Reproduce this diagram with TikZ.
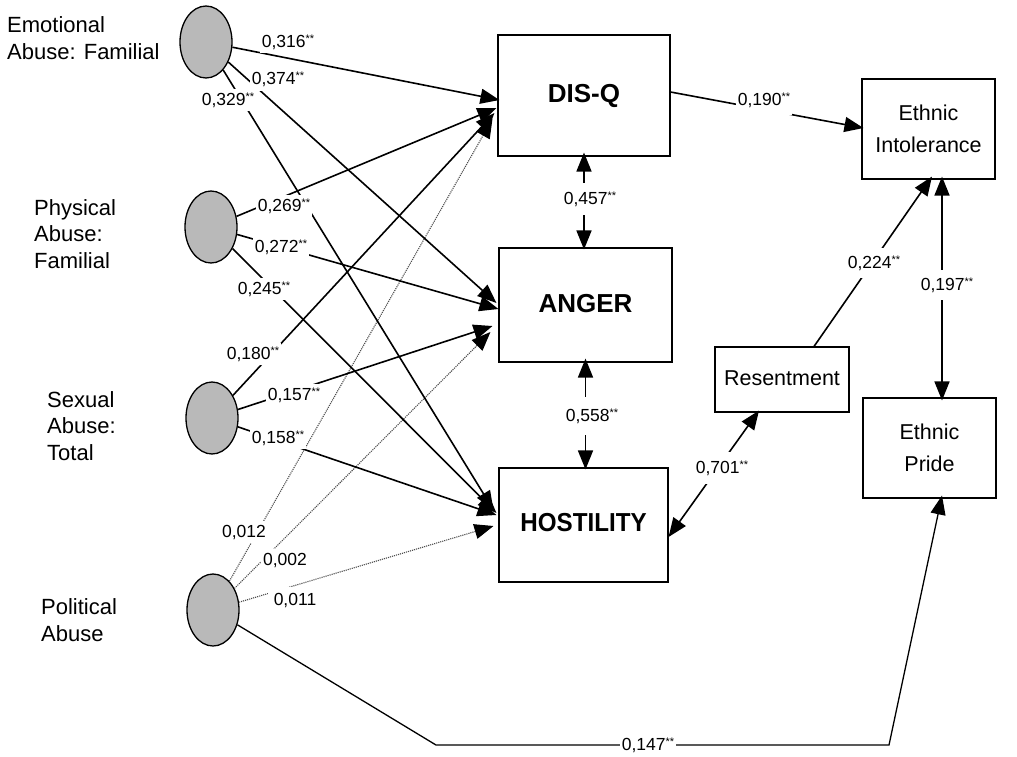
\documentclass[tikz,border=0pt]{standalone}
\usepackage{fontspec}
\setmainfont{Liberation Sans}
\usetikzlibrary{arrows.meta,shapes.geometric}
\newcommand\sigmark{\raisebox{5pt}{\fontsize{11}{11}\selectfont **}}
\begin{document}
\begin{tikzpicture}[x=1pt,y=-1pt,
  lat/.style={ellipse, draw, line width=1.3pt, fill=gray!55, minimum width=52pt, minimum height=72pt, inner sep=0},
  box/.style={rectangle, draw, line width=1.1pt, inner sep=0},
  big/.style={font=\fontsize{26}{30}\selectfont\bfseries},
  reg/.style={font=\fontsize{21.5}{32}\selectfont, align=center},
  side/.style={font=\fontsize{22}{26.5}\selectfont, align=left, anchor=west, inner sep=0},
  lab/.style={font=\fontsize{17.5}{19}\selectfont, fill=white, inner xsep=2pt, inner ysep=4pt},
  arr/.style={-{Triangle[length=19pt,width=15pt]}, line width=1.6pt},
  dbl/.style={{Triangle[length=19pt,width=15pt]}-{Triangle[length=19pt,width=15pt]}, line width=1.6pt},
  dot/.style={densely dotted, line width=1.1pt, draw=black!70, -{Triangle[length=19pt,width=15pt,color=black]}}
]
\useasboundingbox (0,0) rectangle (1017,756);

% latent variables
\node[lat] (e1) at (206,42) {};
\node[lat] (e2) at (211,227) {};
\node[lat] (e3) at (212,418) {};
\node[lat] (e4) at (213,610) {};

\node[side] (t1) at (7,38) {Emotional\\Abuse: Familial};
\node[side] (t2) at (34,234) {Physical\\Abuse:\\Familial};
\node[side] (t3) at (47,426) {Sexual\\Abuse:\\Total};
\node[side] (t4) at (41,620) {Political\\Abuse};

% boxes
\node[box, minimum width=172pt, minimum height=121pt, big] (dis) at (584,95.5) {\raisebox{5pt}{DIS-Q}};
\node[box, minimum width=173pt, minimum height=114pt, big] (ang) at (585.5,305) {\raisebox{3pt}{ANGER}};
\node[box, minimum width=169pt, minimum height=114pt, big] (hos) at (583.5,525) {\raisebox{5pt}{\scalebox{0.93}[1]{HOSTILITY}}};
\node[box, minimum width=133pt, minimum height=100pt, reg] (ei) at (928.5,129) {Ethnic\\Intolerance};
\node[box, minimum width=134pt, minimum height=65pt, reg] (res) at (782,379.5) {\raisebox{3pt}{Resentment}};
\node[box, minimum width=133pt, minimum height=100pt, reg] (ep) at (929.5,448) {Ethnic\\Pride};

% paths to DIS-Q
\draw[arr] (e1) -- ([xshift=2pt,yshift=-4.5pt]dis.west);
\draw[arr] (e2) -- ([xshift=-1pt,yshift=-12.5pt]dis.west);
\draw[arr] (e3) -- ([xshift=-3pt,yshift=-17.5pt]dis.west);
\draw[dot] (e4) -- ([xshift=-5pt,yshift=-23.5pt]dis.west);
% paths to ANGER
\draw[arr] (e1) -- ([xshift=-2pt,yshift=2pt]ang.west);
\draw[arr] (e2) -- ([xshift=0pt,yshift=-4pt]ang.west);
\draw[arr] (e3) -- ([xshift=-6pt,yshift=-21pt]ang.west);
\draw[dot] (e4) -- ([xshift=-8pt,yshift=-27pt]ang.west);
% paths to HOSTILITY
\draw[arr] (e1) -- ([xshift=-5pt,yshift=15pt]hos.west);
\draw[arr] (e2) -- ([xshift=-2pt,yshift=12pt]hos.west);
\draw[arr] (e3) -- ([xshift=-2pt,yshift=10pt]hos.west);
\draw[dot] (e4) -- ([xshift=-5pt,yshift=-1pt]hos.west);
% political abuse to ethnic pride
\coordinate (c1) at (436,745);
\coordinate (c2) at (889,745);
\draw[arr, line width=1.3pt] (e4) -- (c1) -- (c2) -- ([xshift=12.5pt,yshift=3pt]ep.south);

% right part
\draw[arr] ([yshift=3.5pt]dis.east) -- ([xshift=2pt,yshift=1pt]ei.west);
\draw[dbl] ([yshift=4pt]dis.south) -- ([yshift=-2pt]dis.south |- ang.north);
\draw[dbl] ([yshift=4pt]ang.south) -- ([yshift=-2pt]ang.south |- hos.north);
\draw[dbl] ([yshift=-12pt]hos.east) -- ([xshift=-23pt,yshift=2pt]res.south);
\draw[arr] ([xshift=32pt]res.north) -- ([xshift=3.5pt,yshift=3pt]ei.south);
\coordinate (eix) at ([xshift=13.5pt,yshift=3pt]ei.south);
\draw[dbl] (eix) -- ([yshift=-3pt]eix |- ep.north);

% coefficient labels
\node[lab] (l1) at (288,42) {0,316\sigmark};
\node[lab, inner ysep=5pt] (l2) at (278,79) {0,374\sigmark};
\node[lab] (l3) at (228,100) {0,329\sigmark};
\node[lab] (l4) at (284,206) {0,269\sigmark};
\node[lab] (l5) at (281,247) {0,272\sigmark};
\node[lab] (l6) at (264,289) {0,245\sigmark};
\node[lab] (l7) at (253,354) {0,180\sigmark};
\node[lab] (l8) at (294,395) {0,157\sigmark};
\node[lab] (l9) at (278,438) {0,158\sigmark};
\node[lab] (l10) at (244,532) {0,012};
\node[lab] (l11) at (285,560) {0,002};
\node[lab, inner xsep=6pt, inner ysep=6pt] (l12) at (295,600) {0,011};
\node[lab, inner ysep=8pt] (l13) at (764,100) {0,190\sigmark};
\node[lab, inner ysep=9pt] (l14) at (590,199) {0,457\sigmark};
\node[lab, inner ysep=12pt] (l15) at (592,416) {0,558\sigmark};
\node[lab, inner ysep=9pt] (l16) at (722,468) {0,701\sigmark};
\node[lab, inner ysep=8pt] (l17) at (874,263) {0,224\sigmark};
\node[lab, inner ysep=8pt] (l18) at (947,285) {0,197\sigmark};
\node[lab, inner ysep=3pt] (l19) at (648,745) {0,147\sigmark};
\end{tikzpicture}
\end{document}
